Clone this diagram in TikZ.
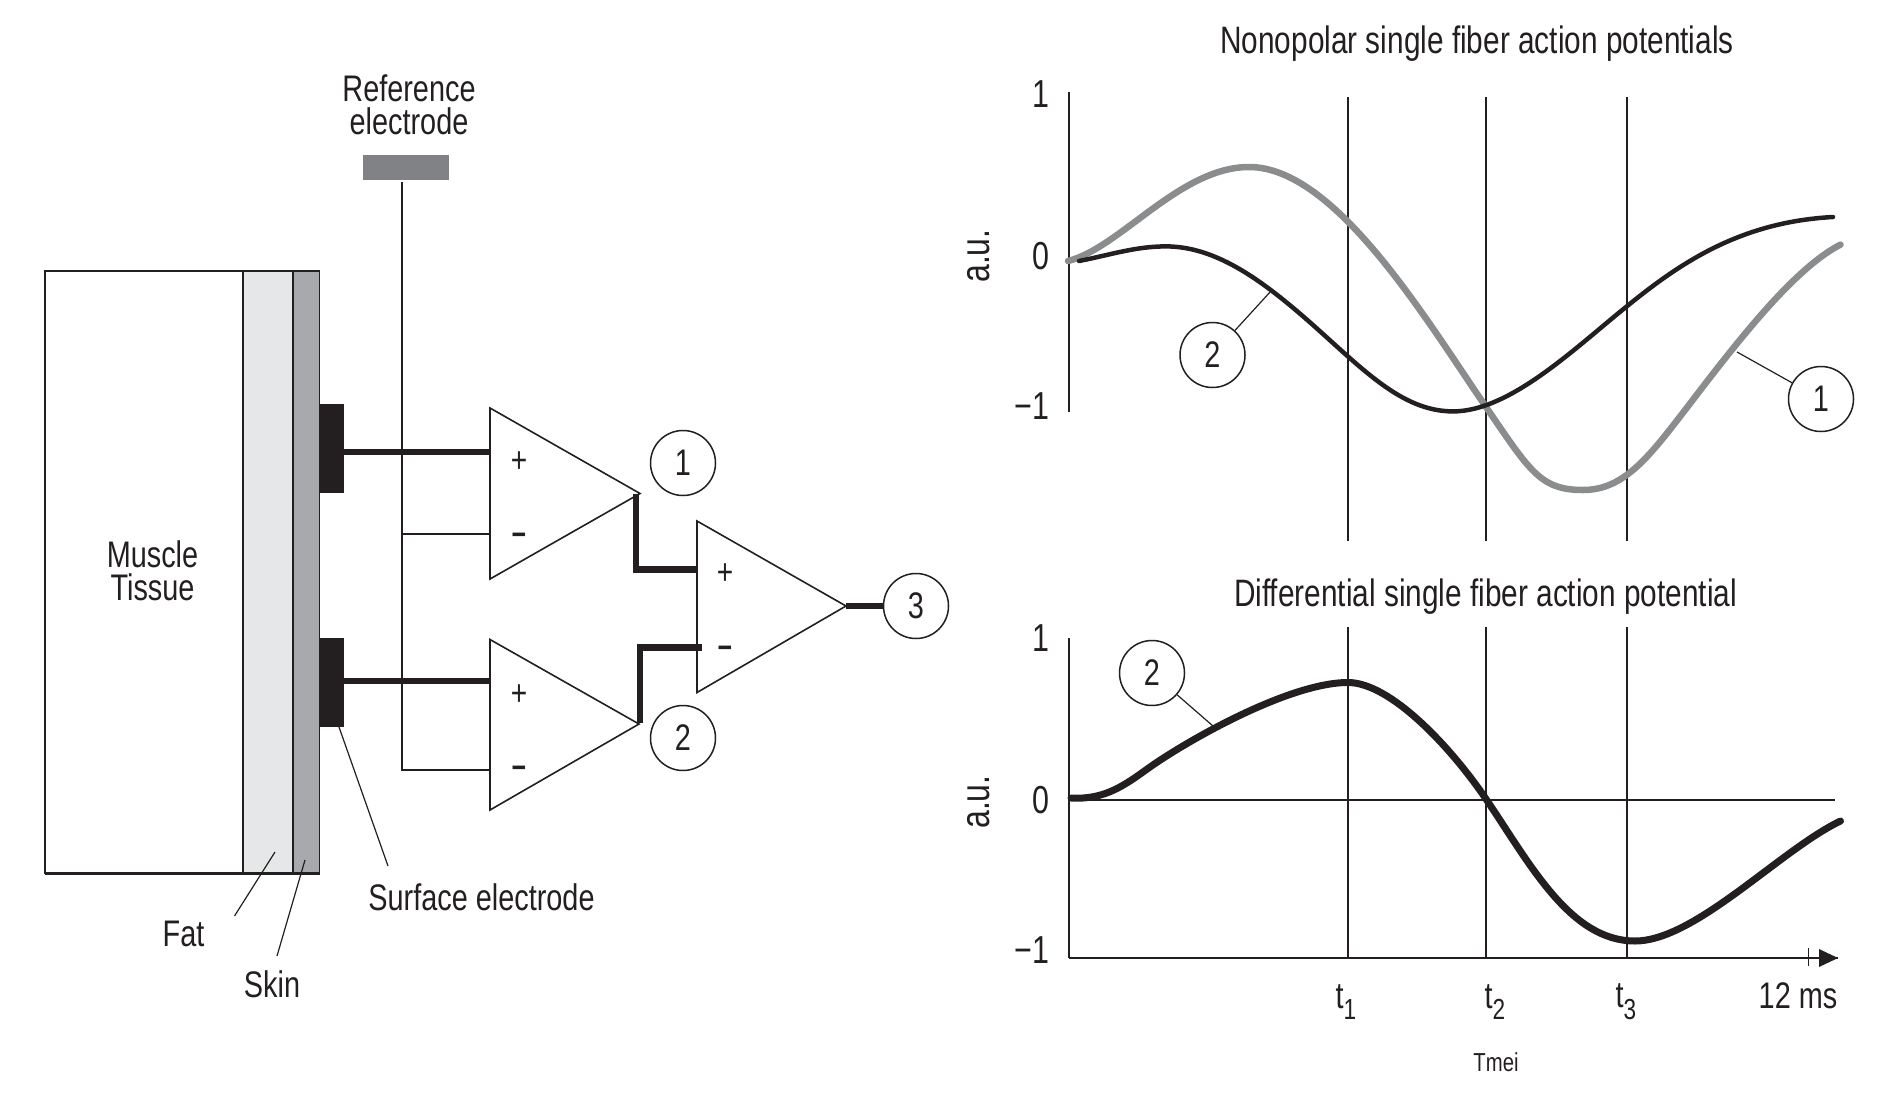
\documentclass[tikz,border=0pt]{standalone}
\usepackage{fontspec}
\setmainfont{Liberation Sans}[FakeStretch=0.78]
\usetikzlibrary{arrows.meta}
\definecolor{inkc}{HTML}{231F20}
\definecolor{fatc}{HTML}{E6E7E8}
\definecolor{skinc}{HTML}{A7A9AC}
\definecolor{refc}{HTML}{808285}
\definecolor{curvegray}{HTML}{8A8C8E}
\newcommand{\tsub}[1]{t\raisebox{-0.32em}{\fontsize{29}{29}\selectfont #1}}
\tikzset{
  thin wire/.style={draw=inkc,line width=1.7pt},
  thick wire/.style={draw=inkc,line width=6.4pt,line join=miter},
  leader/.style={draw=inkc,line width=1.2pt},
  block/.style={draw=inkc,line width=1.8pt},
  lab/.style={text=inkc,inner sep=0pt,align=center,font=\fontsize{37}{33}\selectfont},
  titlelab/.style={lab,font=\fontsize{38.2}{39}\selectfont},
  ticklab/.style={lab,font=\fontsize{39}{39}\selectfont},
  sign/.style={lab,font=\fontsize{36}{36}\selectfont},
  signneg/.style={lab,font=\bfseries\fontsize{32}{32}\selectfont},
  num/.style={draw=inkc,line width=1.5pt,circle,minimum size=65pt,inner sep=0pt,fill=white,text=inkc,font=\fontsize{37}{37}\selectfont},
  amp/.style={draw=inkc,line width=1.6pt,line join=miter,fill=white},
  trace/.style={line cap=round,line join=round},
}
\begin{document}
\begin{tikzpicture}[x=1pt,y=-1pt]
\path[use as bounding box] (0,0) rectangle (1879,1095);
% tissue block
\fill[fatc] (243,271) rectangle (293,873.5);
\fill[skinc] (293,271) rectangle (319.5,873.5);
\draw[block] (45,271) rectangle (319.5,873.5);
\draw[block,line width=1.5pt] (243,271) -- (243,873.5) (293,271) -- (293,873.5);
\draw[block,line width=2.6pt] (45,271) -- (319.5,271) (45,873.5) -- (319.5,873.5);
% electrodes
\fill[inkc] (319.5,404) rectangle (344,493);
\fill[inkc] (319.5,638) rectangle (344,727);
\fill[refc] (363,155) rectangle (449,180);
% named anchors
\coordinate (refTop) at (402,182);
\coordinate (refBot) at (402,770);
\coordinate (refMid) at (402,534);
\coordinate (e1) at (344,452);
\coordinate (e2) at (344,681);
\coordinate (a1in) at (490,452);
\coordinate (a2in) at (490,681);
\coordinate (a1neg) at (490,534);
\coordinate (a2neg) at (490,770);
\coordinate (a1t) at (490,408); \coordinate (a1b) at (490,579); \coordinate (a1tip) at (640,493.5);
\coordinate (a2t) at (490,639.5); \coordinate (a2b) at (490,810); \coordinate (a2tip) at (639,724);
\coordinate (a3t) at (697,521); \coordinate (a3b) at (697,692.5); \coordinate (a3tip) at (846,606);
% reference wiring
\draw[thin wire,line join=miter] (refTop) -- (refBot) -- (a2neg);
\draw[thin wire] (refMid) -- (a1neg);
\draw[thick wire] (e1) -- (a1in);
\draw[thick wire] (e2) -- (a2in);
% amplifiers
\draw[amp] (a1t) -- (a1tip) -- (a1b) -- cycle;
\draw[amp] (a2t) -- (a2tip) -- (a2b) -- cycle;
\draw[amp] (a3t) -- (a3tip) -- (a3b) -- cycle;
\draw[thick wire] (636,494) |- (697,569.5);
\draw[thick wire] (640,723) |- (702,647.5);
% circles
\node[num] (c1) at (683,463) {1};
\node[num] (c2) at (683,738) {2};
\node[num] (c3) at (916,606) {3};
\draw[thick wire] (a3tip) -- (c3);
% signs
\node[sign] (s1) at (519,462) {+};
\node[signneg] (s2) at (519,539.5) {−};
\node[sign] (s3) at (519,695) {+};
\node[signneg] (s4) at (519,772.5) {−};
\node[sign] (s5) at (725,574) {+};
\node[signneg] (s6) at (725,652.5) {−};
% left labels
\node[lab] (tRef) at (409,105) {Reference\\electrode};
\node[lab] (tMus) at (152.5,571) {Muscle\\Tissue};
\node[lab] (tSur) at (481.5,897) {Surface electrode};
\node[lab] (tFat) at (183.5,934) {Fat};
\node[lab] (tSkn) at (272,984) {Skin};
\coordinate (lSurA) at (339,727); \coordinate (lSurB) at (388,866);
\coordinate (lFatA) at (275,852); \coordinate (lFatB) at (234.5,916);
\coordinate (lSknA) at (305,860); \coordinate (lSknB) at (277,956);
\draw[leader] (lSurA) -- (lSurB);
\draw[leader] (lFatA) -- (lFatB);
\draw[leader] (lSknA) -- (lSknB);
% upper plot
\node[titlelab] (t1) at (1477,44) {Nonopolar single fiber action potentials};
\draw[thin wire] (1069,92) -- (1069,412);
\draw[thin wire] (1348,97) -- (1348,541);
\draw[thin wire] (1486,97) -- (1486,541);
\draw[thin wire] (1627,97) -- (1627,541);
\draw[curvegray,line width=6.5pt,trace]
  (1068,261) .. controls (1120,248) and (1180,167) .. (1249,167)
  .. controls (1335,167) and (1425,318) .. (1486,407)
  .. controls (1530,471) and (1540,490) .. (1583,490)
  .. controls (1625,490) and (1650,455.6) .. (1690,403.6)
  .. controls (1740,338) and (1795,268) .. (1840.5,244.6);
\draw[inkc,line width=4.5pt,trace]
  (1079,261) .. controls (1110,255) and (1135,246.4) .. (1166,246.4)
  .. controls (1215,246.4) and (1260,279) .. (1305,318)
  .. controls (1360,366) and (1400,411.4) .. (1453,411.4)
  .. controls (1510,411.4) and (1575,348) .. (1626,307)
  .. controls (1680,263) and (1740,222) .. (1833,217);
\node[num] (u2) at (1212.5,355) {2};
\node[num] (u1) at (1821,399) {1};
\coordinate (u2p) at (1271,291);
\coordinate (u1p) at (1737,352);
\draw[leader] (u2) -- (u2p);
\draw[leader] (u1) -- (u1p);
\node[ticklab] (y1) at (1041,94) {1};
\node[ticklab] (y2) at (1041,256) {0};
\node[ticklab] (y3) at (1032,406) {−1};
\node[lab,rotate=90,font=\fontsize{41}{41}\selectfont] (au1) at (979,256) {a.u.};
% lower plot
\node[titlelab] (t2) at (1485.5,597) {Differential single fiber action potential};
\coordinate (o) at (1069,958);
\coordinate (yTop) at (1069,638);
\coordinate (xEnd) at (1838,958);
\draw[thin wire,line width=2pt] (yTop) -- (o);
\draw[thin wire,line width=2.4pt] (o) -- (xEnd);
\fill[inkc] (1819,949) -- (1838,958) -- (1819,967) -- cycle;
\draw[thin wire] (1808.5,948) -- (1808.5,966);
\draw[thin wire] (1348,627) -- (1348,958);
\draw[thin wire] (1486,627) -- (1486,958);
\draw[thin wire] (1627,627) -- (1627,958);
\draw[thin wire,line width=2.4pt] (1069,800) -- (1835,800);
\draw[inkc,line width=7pt,trace]
  (1071,798) .. controls (1105,800) and (1125,785) .. (1150,767)
  .. controls (1190,739) and (1290,682.5) .. (1348,682.5)
  .. controls (1390,682.5) and (1450,746) .. (1486,799)
  .. controls (1530,864) and (1570,941) .. (1635,941)
  .. controls (1695,941) and (1780,850) .. (1840.5,821);
\node[num] (l2) at (1152,673) {2};
\coordinate (l2p) at (1213,726);
\draw[leader] (l2) -- (l2p);
\node[ticklab] (y4) at (1041,638) {1};
\node[ticklab] (y5) at (1041,800) {0};
\node[ticklab] (y6) at (1032,950) {−1};
\node[lab,rotate=90,font=\fontsize{41}{41}\selectfont] (au2) at (979,802) {a.u.};
\node[lab] (x1) at (1346,1002) {\tsub{1}};
\node[lab] (x2) at (1495,1002) {\tsub{2}};
\node[lab] (x3) at (1626,1002) {\tsub{3}};
\node[lab] (x4) at (1798,996) {12 ms};
\node[lab,font=\fontsize{26}{26}\selectfont] (x5) at (1496,1062) {Tmei};
\end{tikzpicture}
\end{document}
